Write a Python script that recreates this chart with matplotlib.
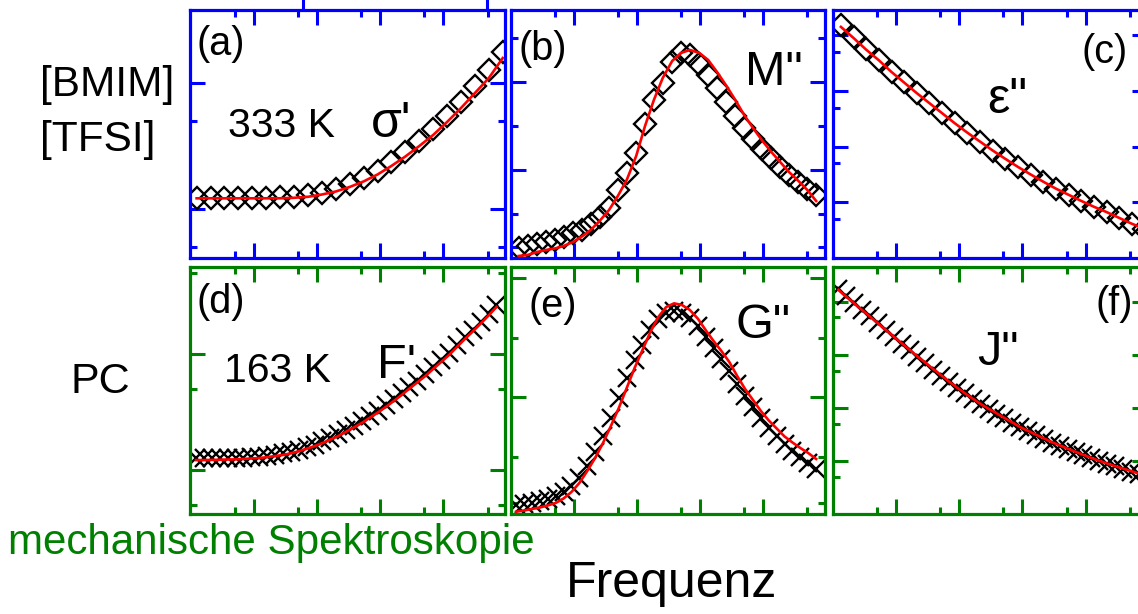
import matplotlib
matplotlib.use("Agg")
import matplotlib.pyplot as plt
from matplotlib.ticker import FixedLocator, NullFormatter
from matplotlib.lines import Line2D

plt.rcParams['font.family'] = ['Liberation Sans', 'DejaVu Sans']

# ---------------- data (log10 units, arbitrary offsets) ----------------
# (a) sigma' of [BMIM][TFSI]
freq_a = [0.10, 0.32, 0.54, 0.76, 0.98, 1.20, 1.42, 1.64, 1.86, 2.08, 2.30, 2.52,
          2.74, 2.96, 3.18, 3.40, 3.62, 3.84, 4.06, 4.28, 4.50, 4.72, 4.94]
sigma_data = [0.09, 0.09, 0.09, 0.09, 0.09, 0.09, 0.094, 0.098, 0.11, 0.129, 0.161, 0.201,
              0.248, 0.304, 0.375, 0.455, 0.542, 0.637, 0.74, 0.852, 0.979, 1.106, 1.248]
sigma_fit = [0.087, 0.087, 0.087, 0.087, 0.087, 0.087, 0.087, 0.091, 0.099, 0.117, 0.141, 0.177,
             0.221, 0.276, 0.344, 0.419, 0.502, 0.59, 0.693, 0.804, 0.923, 1.042, 1.201]

# (b) M''
freq_b = [0.13, 0.27, 0.42, 0.56, 0.70, 0.84, 0.99, 1.13, 1.27, 1.41, 1.56, 1.70,
          1.84, 1.99, 2.13, 2.27, 2.41, 2.56, 2.70, 2.84, 2.99, 3.13, 3.27, 3.41,
          3.56, 3.70, 3.84, 3.99, 4.13, 4.27, 4.41, 4.56, 4.70, 4.84]
M_data = [0.114, 0.136, 0.159, 0.182, 0.205, 0.239, 0.284, 0.318, 0.386, 0.466, 0.568, 0.773,
          0.966, 1.193, 1.523, 1.795, 1.989, 2.227, 2.330, 2.307, 2.205, 2.080, 1.932, 1.773,
          1.614, 1.477, 1.352, 1.239, 1.136, 1.034, 0.943, 0.864, 0.784, 0.716]
M_fit = [0.023, 0.034, 0.068, 0.091, 0.108, 0.136, 0.182, 0.244, 0.318, 0.420, 0.545, 0.705,
         0.886, 1.159, 1.500, 1.795, 2.045, 2.239, 2.330, 2.364, 2.330, 2.250, 2.114, 1.966,
         1.795, 1.625, 1.477, 1.330, 1.205, 1.091, 0.977, 0.875, 0.773, 0.648]

# (c) eps''
freq_c = [0.13, 0.33, 0.53, 0.73, 0.93, 1.13, 1.33, 1.53, 1.73, 1.93, 2.13, 2.33, 2.53,
          2.73, 2.93, 3.13, 3.33, 3.53, 3.73, 3.93, 4.13, 4.33, 4.53, 4.73, 4.93]
eps_data = [4.185, 3.970, 3.754, 3.557, 3.342, 3.154, 2.966, 2.787, 2.599, 2.419, 2.249, 2.088,
            1.927, 1.774, 1.631, 1.496, 1.371, 1.246, 1.138, 1.030, 0.923, 0.833, 0.726, 0.618, 0.529]
eps_fit = [4.15, 3.95, 3.74, 3.55, 3.34, 3.15, 2.96, 2.78, 2.60, 2.42, 2.25, 2.09,
           1.93, 1.78, 1.635, 1.50, 1.37, 1.245, 1.135, 1.025, 0.92, 0.825, 0.72, 0.615, 0.525]

# (d)-(f) propylene carbonate, mechanical spectroscopy
freq_pc = [0.09, 0.215, 0.34, 0.465, 0.59, 0.715, 0.84, 0.965, 1.09, 1.215, 1.34, 1.465, 1.59,
           1.715, 1.84, 1.965, 2.09, 2.215, 2.34, 2.465, 2.59, 2.715, 2.84, 2.965, 3.09, 3.215,
           3.34, 3.465, 3.59, 3.715, 3.84, 3.965, 4.09, 4.215, 4.34, 4.465, 4.59, 4.715, 4.84]
F_data = [0.10, 0.10, 0.10, 0.10, 0.10, 0.102, 0.106, 0.11, 0.115, 0.123, 0.133, 0.143, 0.158,
          0.175, 0.197, 0.22, 0.247, 0.278, 0.308, 0.346, 0.383, 0.422, 0.467, 0.511, 0.559,
          0.61, 0.662, 0.718, 0.772, 0.826, 0.887, 0.947, 1.008, 1.077, 1.146, 1.211, 1.279, 1.35, 1.425]
F_fit = [0.086, 0.086, 0.088, 0.089, 0.091, 0.092, 0.096, 0.100, 0.104, 0.111, 0.121, 0.130, 0.145,
         0.162, 0.184, 0.207, 0.233, 0.264, 0.294, 0.332, 0.369, 0.408, 0.453, 0.497, 0.545,
         0.596, 0.648, 0.704, 0.758, 0.812, 0.873, 0.933, 0.994, 1.063, 1.132, 1.197, 1.265, 1.335, 1.409]
G_data = [-1.807, -1.790, -1.773, -1.740, -1.706, -1.656, -1.589, -1.488, -1.354, -1.153, -0.919,
          -0.649, -0.347, -0.012, 0.324, 0.626, 0.878, 1.129, 1.314, 1.414, 1.448, 1.414, 1.330,
          1.196, 1.012, 0.827, 0.643, 0.443, 0.223, 0.022, -0.163, -0.347, -0.515, -0.649,
          -0.784, -0.901, -1.002, -1.102, -1.203]
G_fit = [-1.919, -1.899, -1.874, -1.849, -1.815, -1.773, -1.698, -1.589, -1.438, -1.237, -1.018,
         -0.766, -0.481, -0.179, 0.156, 0.492, 0.794, 1.096, 1.347, 1.515, 1.577, 1.549, 1.465,
         1.322, 1.129, 0.945, 0.777, 0.592, 0.357, 0.139, -0.045, -0.230, -0.389, -0.523,
         -0.658, -0.758, -0.851, -0.935, -1.035]
J_data = [4.23, 4.10, 3.97, 3.84, 3.72, 3.59, 3.46, 3.34, 3.21, 3.09, 2.96, 2.845, 2.72,
          2.605, 2.49, 2.375, 2.27, 2.165, 2.065, 1.975, 1.89, 1.80, 1.715, 1.63, 1.56, 1.485,
          1.415, 1.345, 1.285, 1.225, 1.165, 1.105, 1.05, 0.995, 0.945, 0.895, 0.85, 0.80, 0.755]
J_fit = [4.220, 4.092, 3.966, 3.841, 3.715, 3.591, 3.465, 3.338, 3.216, 3.094, 2.966, 2.850,
         2.728, 2.612, 2.493, 2.381, 2.274, 2.171, 2.071, 1.981, 1.897, 1.809, 1.724, 1.636,
         1.565, 1.493, 1.424, 1.353, 1.293, 1.231, 1.171, 1.113, 1.056, 1.002, 0.951, 0.902,
         0.857, 0.809, 0.762]

BLUE = '#0000ff'
GREEN = '#008000'
RED = '#ff0000'

W, H = 1138, 614
fig = plt.figure(figsize=(W / 100, H / 100), dpi=100)


def make_axes(x0, x1, y0, y1, color, xlim, ylim, ymaj, ymin):
    ax = fig.add_axes([x0 / W, 1 - y1 / H, (x1 - x0) / W, (y1 - y0) / H])
    ax.set_xlim(*xlim)
    ax.set_ylim(*ylim)
    for s in ax.spines.values():
        s.set_color(color)
        s.set_linewidth(2.3)
    ax.xaxis.set_major_locator(FixedLocator([1, 2, 3, 4]))
    ax.xaxis.set_minor_locator(FixedLocator([0.7, 1.7, 2.7, 3.7, 4.7]))
    ax.yaxis.set_major_locator(FixedLocator(ymaj))
    ax.yaxis.set_minor_locator(FixedLocator(ymin))
    for axis in (ax.xaxis, ax.yaxis):
        axis.set_major_formatter(NullFormatter())
        axis.set_minor_formatter(NullFormatter())
    ax.tick_params(which='both', direction='in', top=True, right=True, color=color, width=2.2)
    ax.tick_params(which='major', length=10.5)
    ax.tick_params(which='minor', length=5)
    return ax


def diamonds(ax, x, y, fit):
    ax.plot(x, y, linestyle='none', marker='D', markersize=11, markerfacecolor='none',
            markeredgecolor='black', markeredgewidth=1.7, zorder=2)
    ax.plot(x, fit, color=RED, linewidth=1.9, zorder=3)


def crosses(ax, x, y, fit):
    ax.plot(x, y, linestyle='none', marker='x', markersize=13, markeredgecolor='black',
            markeredgewidth=1.7, zorder=2)
    ax.plot(x, fit, color=RED, linewidth=1.9, zorder=3)


TOP = (10, 258)
BOT = (266.5, 514)
COLS = [(190.3, 505.3), (510.5, 825.0), (832.7, 1147.0)]

ax_a = make_axes(*COLS[0], *TOP, BLUE, (0, 4.98), (-0.387, 1.582), [0, 1], [-0.3, 0.7])
diamonds(ax_a, freq_a, sigma_data, sigma_fit)
ax_b = make_axes(*COLS[1], *TOP, BLUE, (0, 4.98), (0, 2.818), [1, 2], [0.13, 0.5, 1.5, 2.5])
diamonds(ax_b, freq_b, M_data, M_fit)
ax_c = make_axes(*COLS[2], *TOP, BLUE, (0, 4.97), (0, 4.453), [1, 2, 3, 4], [0.7, 1.7, 2.7, 3.7])
diamonds(ax_c, freq_c, eps_data, eps_fit)

ax_d = make_axes(*COLS[0], *BOT, GREEN, (0, 4.98), (-0.380, 1.759), [0, 1], [-0.3, 0.7, 1.7])
crosses(ax_d, freq_pc, F_data, F_fit)
ax_e = make_axes(*COLS[1], *BOT, GREEN, (0, 4.98), (-1.958, 2.195), [0, 2], [-1.78, -1, 1])
crosses(ax_e, freq_pc, G_data, G_fit)
ax_f = make_axes(*COLS[2], *BOT, GREEN, (0, 4.97), (0, 4.66), [1, 2, 3, 4], [0.7, 1.7, 2.7, 3.7])
crosses(ax_f, freq_pc, J_data, J_fit)

# small tick marks of a panel above (cut off)
for xp in (303.3, 486.7):
    fig.add_artist(Line2D([xp / W, xp / W], [1, 1 - 8 / H], color=BLUE, linewidth=2.2))


def ftext(x, y, s, size, color='black', **kw):
    fig.text(x / W, 1 - y / H, s, fontsize=size, color=color, ha='left', va='baseline', **kw)


ftext(40, 96, '[BMIM]', 30.5)
ftext(40, 151, '[TFSI]', 30.5)
ftext(71, 393, 'PC', 31)
ftext(8.5, 554.3, 'mechanische Spektroskopie', 30.3, color=GREEN)
ftext(566, 597, 'Frequenz', 36)

ftext(196.7, 55, '(a)', 28.5)
ftext(228.3, 136.7, '333 K', 29.5)
ftext(370.5, 136.7, "σ'", 36)
ftext(518.3, 60, '(b)', 28.5)
ftext(745, 85, 'M"', 35)
ftext(1081.7, 63.3, '(c)', 28.5)
ftext(987, 113.3, 'ε"', 36)
ftext(196.7, 313.3, '(d)', 28.5)
ftext(224, 381.7, '163 K', 29.5)
ftext(377, 378.3, "F'", 35)
ftext(528.3, 316.7, '(e)', 28.5)
ftext(735.5, 338.3, 'G"', 35)
ftext(1095, 315, '(f)', 28.5)
ftext(977.5, 365, 'J"', 35)

fig.savefig('out.png', dpi=100)
